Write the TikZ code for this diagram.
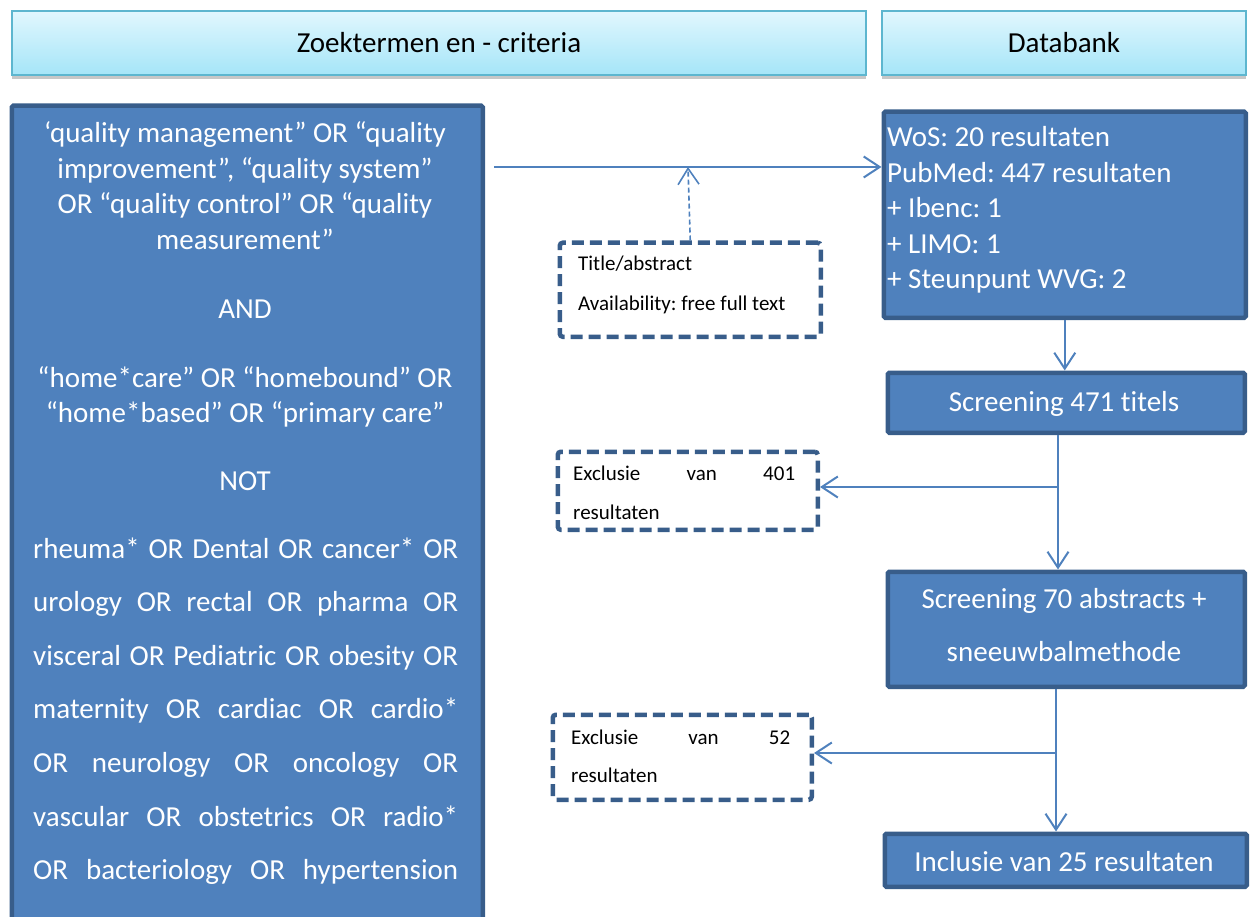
\documentclass[tikz,border=0pt]{standalone}
\usepackage{fontspec}
\setmainfont{Carlito}[Ligatures=NoCommon]
\frenchspacing
\usetikzlibrary{arrows.meta,shadows,calc}
\definecolor{mfill}{HTML}{4F81BD}
\definecolor{mline}{HTML}{385D8A}
\definecolor{cconn}{HTML}{4F81BD}
\definecolor{htop}{HTML}{E1F7FE}
\definecolor{hbot}{HTML}{A5E5F8}
\definecolor{hline}{HTML}{5DB6CF}
\begin{document}
\begin{tikzpicture}[x=1pt,y=-1pt,
 box/.style={draw=mline, fill=mfill, line width=4.5pt, rounded corners=1.5pt, inner sep=0pt, anchor=north west},
 dbox/.style={draw=mline, line width=4.5pt, dash pattern=on 12pt off 6pt, rounded corners=3pt, inner sep=0pt, anchor=north west, fill=white},
 hdr/.style={draw=hline, line width=2pt, top color=htop, bottom color=hbot, inner sep=0pt, anchor=north west, font=\fontsize{29}{34}\selectfont},
 hshadow/.style={fill=black, opacity=0.22, inner sep=0pt, anchor=north west},
 big/.style={text=white, font=\fontsize{29}{35}\selectfont, inner sep=0pt},
 small/.style={text=black, font=\fontsize{21}{25}\selectfont, inner sep=0pt, anchor=base west},
 conn/.style={draw=cconn, line width=2pt, -{Straight Barb[length=16pt,width=21pt]}},
 dconn/.style={conn, line width=1.6pt, dash pattern=on 5pt off 3pt}]
\useasboundingbox (0,0) rectangle (1250,917);
\clip (0,0) rectangle (1250,917);

% header shadows
\node[hshadow, minimum width=854pt, minimum height=64pt] (h1s) at (12,15) {};
\node[hshadow, minimum width=364pt, minimum height=64pt] (h2s) at (882,15) {};
% headers
\node[hdr, minimum width=854pt, minimum height=64pt] (h1) at (11,10) {Zoektermen en - criteria};
\node[hdr, minimum width=364pt, minimum height=64pt] (h2) at (881,10) {Databank};

% left query box
\node[box, minimum width=471pt, minimum height=900pt] (query) at (9.5,103.5) {};
\node[big, anchor=base] (q1) at (245,143) {‘quality management” OR “quality};
\node[big, anchor=base] (q2) at (245,178.5) {improvement”, “quality system”};
\node[big, anchor=base] (q3) at (245,214) {OR “quality control” OR “quality};
\node[big, anchor=base] (q4) at (245,249.5) {measurement”};
\node[big, anchor=base] (q5) at (245,319) {AND};
\node[big, anchor=base] (q6) at (245,387) {“home*care” OR “homebound” OR};
\node[big, anchor=base] (q7) at (245,422.5) {“home*based” OR “primary care”};
\node[big, anchor=base] (q8) at (245,490) {NOT};
\node[big, anchor=base west] (q9) at (33,558) {\makebox[425pt][s]{rheuma* OR Dental OR cancer* OR}};
\node[big, anchor=base west] (q10) at (33,611.6) {\makebox[425pt][s]{urology OR rectal OR pharma OR}};
\node[big, anchor=base west] (q11) at (33,665.2) {\makebox[425pt][s]{visceral OR Pediatric OR obesity OR}};
\node[big, anchor=base west] (q12) at (33,718.8) {\makebox[425pt][s]{maternity OR cardiac OR cardio*}};
\node[big, anchor=base west] (q13) at (33,772.4) {\makebox[425pt][s]{OR neurology OR oncology OR}};
\node[big, anchor=base west] (q14) at (33,826) {\makebox[425pt][s]{vascular OR obstetrics OR radio*}};
\node[big, anchor=base west] (q15) at (33,879.6) {\makebox[425pt][s]{OR bacteriology OR hypertension}};

% WoS box
\node[box, minimum width=362pt, minimum height=206pt] (wos) at (881.5,109.5) {};
\node[big, anchor=base west] (w1) at (887,147) {WoS: 20 resultaten};
\node[big, anchor=base west] (w2) at (887,182.5) {PubMed: 447 resultaten};
\node[big, anchor=base west] (w3) at (887,218) {+ Ibenc: 1};
\node[big, anchor=base west] (w4) at (887,253.5) {+ LIMO: 1};
\node[big, anchor=base west] (w5) at (887,289) {+ Steunpunt WVG: 2};

% screening boxes
\node[box, minimum width=357pt, minimum height=60pt] (scr1) at (885.5,370.5) {};
\node[big, anchor=base] (s1t) at (1064,411) {Screening 471 titels};
\node[box, minimum width=357pt, minimum height=115pt] (scr2) at (885.5,569.5) {};
\node[big, anchor=base] (s2a) at (1064,608) {Screening 70 abstracts +};
\node[big, anchor=base] (s2b) at (1064,661) {sneeuwbalmethode};
\node[box, minimum width=362pt, minimum height=53pt] (incl) at (882.5,831.5) {};
\node[big, anchor=base] (it) at (1064,871) {Inclusie van 25 resultaten};

% dashed boxes
\node[dbox, minimum width=261pt, minimum height=94pt] (title) at (557.5,240.5) {};
\node[small] (t1) at (578,271) {Title/abstract};
\node[small] (t2) at (578,310) {Availability: free full text};
\node[dbox, minimum width=260pt, minimum height=78pt] (ex1) at (555.5,449.5) {};
\node[small] (e1a) at (573,480) {\makebox[222pt][s]{Exclusie van 401}};
\node[small] (e1b) at (573,519) {resultaten};
\node[dbox, minimum width=259pt, minimum height=85pt] (ex2) at (550.5,712.5) {};
\node[small] (e2a) at (571,744) {\makebox[219pt][s]{Exclusie van 52}};
\node[small] (e2b) at (571,782) {resultaten};

% connectors
\coordinate (j1) at (688,167);
\coordinate (b1) at (1058,487);
\coordinate (b2) at (1056,753);
\draw[conn, shorten <=9pt] (query.east |- j1) -- (wos.west |- j1);
\draw[dconn] (title.north) -- (j1);
\draw[conn] (wos.south) -- (wos.south |- scr1.north);
\draw[conn] (scr1.south -| b1) -- (scr2.north -| b1);
\draw[conn] (b1) -- (ex1.east |- b1);
\draw[conn] (scr2.south -| b2) -- (incl.north -| b2);
\draw[conn] (b2) -- (ex2.east |- b2);
\end{tikzpicture}
\end{document}
